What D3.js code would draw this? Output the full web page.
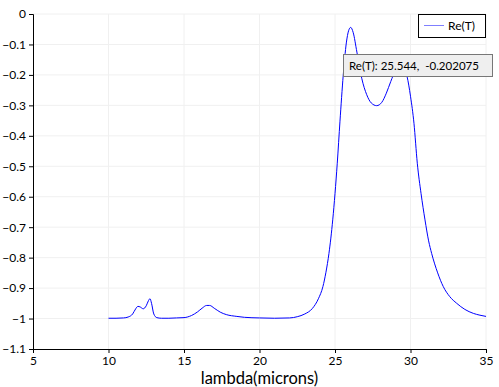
<!DOCTYPE html>
<html>
<head>
<meta charset="utf-8">
<script src="https://cdn.jsdelivr.net/npm/d3@7"></script>
<style>
  body { margin: 0; background: #fff; }
  svg { display: block; font-family: Lato, "Open Sans", sans-serif; }
</style>
</head>
<body>
<div id="chart"></div>
<script>
// wavelength samples (microns)
const lambda = [
  10.0, 10.5, 11.0, 11.3, 11.6, 11.8, 11.95, 12.1, 12.3, 12.5, 12.65, 12.75, 12.85, 13.0, 13.2, 13.5,
  14.0, 14.5, 15.0, 15.5, 15.9, 16.2, 16.5, 16.7, 17.0, 17.4, 17.8, 18.5, 19.0, 20.0, 21.0, 22.0,
  22.5, 23.0, 23.5, 23.9, 24.2, 24.4, 24.6, 24.85, 25.0, 25.15, 25.33, 25.544, 25.75, 25.9, 26.04,
  26.2, 26.45, 26.77, 27.1, 27.4, 27.76, 28.1, 28.4, 28.69, 29.0, 29.25, 29.5, 29.77, 30.0, 30.23,
  30.45, 30.7, 30.96, 31.2, 31.4, 31.8, 32.17, 32.6, 33.06, 33.6, 34.16, 34.6, 35.0
];
const reT = [
  -0.999, -0.999, -0.998, -0.995, -0.985, -0.968, -0.960, -0.962, -0.968, -0.958, -0.941, -0.935, -0.950, -0.985, -0.997, -0.999,
  -0.999, -0.998, -0.997, -0.990, -0.978, -0.966, -0.957, -0.957, -0.966, -0.979, -0.987, -0.993, -0.996, -0.998, -0.999, -0.998,
  -0.994, -0.985, -0.967, -0.935, -0.895, -0.848, -0.786, -0.676, -0.590, -0.490, -0.352, -0.202, -0.095, -0.055, -0.044,
  -0.060, -0.125, -0.211, -0.265, -0.292, -0.301, -0.290, -0.260, -0.222, -0.185, -0.168, -0.178, -0.205, -0.270, -0.359,
  -0.490, -0.590, -0.676, -0.745, -0.786, -0.850, -0.895, -0.928, -0.950, -0.970, -0.983, -0.989, -0.993
];
const xTicks = [5, 10, 15, 20, 25, 30, 35];
const yTicks = [0, -0.1, -0.2, -0.3, -0.4, -0.5, -0.6, -0.7, -0.8, -0.9, -1, -1.1];
const seriesName = "Re(T)";
const tipPoint = [25.544, -0.202075];

const width = 499, height = 387;
const margin = { top: 14, right: 13, bottom: 38, left: 33 };
const w = width - margin.left - margin.right;
const h = height - margin.top - margin.bottom;

const svg = d3.select("#chart").append("svg")
  .attr("width", width)
  .attr("height", height);

const g = svg.append("g")
  .attr("transform", `translate(${margin.left},${margin.top})`);

const x = d3.scaleLinear().domain([5, 35]).range([0, w]);
const y = d3.scaleLinear().domain([-1.1, 0]).range([h, 0]);

// faint grid
g.append("g").selectAll("line.v")
  .data(xTicks.slice(1))
  .enter().append("line")
  .attr("x1", d => x(d)).attr("x2", d => x(d))
  .attr("y1", 0).attr("y2", h)
  .attr("stroke", "#f0f0f0");
g.append("g").selectAll("line.h")
  .data(yTicks.slice(0, -1))
  .enter().append("line")
  .attr("x1", 0).attr("x2", w)
  .attr("y1", d => y(d)).attr("y2", d => y(d))
  .attr("stroke", "#f0f0f0");

// axes
const xAxis = g.append("g")
  .attr("transform", `translate(0,${h})`)
  .call(d3.axisBottom(x).tickValues(xTicks).tickSize(4).tickFormat(d3.format("d")));
const yAxis = g.append("g")
  .call(d3.axisLeft(y).tickValues(yTicks).tickSize(4).tickFormat(d => d === 0 ? "0" : d3.format("")(d)));

[xAxis, yAxis].forEach(a => {
  a.select(".domain").attr("stroke", "#000");
  a.selectAll(".tick line").attr("stroke", "#000");
  a.selectAll(".tick text")
    .attr("fill", "#000")
    .style("font-size", "12px")
    .style("font-family", "Lato, sans-serif");
});
xAxis.selectAll(".tick text").attr("dy", "0.72em");

// x axis title
svg.append("text")
  .attr("x", margin.left + w / 2)
  .attr("y", 383.5)
  .attr("text-anchor", "middle")
  .style("font-size", "16.5px")
  .text("lambda(microns)");

// curve
const pts = lambda.map((d, i) => [d, reT[i]]);
const line = d3.line()
  .x(d => x(d[0]))
  .y(d => y(d[1]))
  .curve(d3.curveMonotoneX);

g.append("path")
  .datum(pts)
  .attr("fill", "none")
  .attr("stroke", "#0000ff")
  .attr("stroke-width", 1)
  .attr("d", line);

// legend
const legend = g.append("g")
  .attr("transform", `translate(${w - 68},0)`);
legend.append("rect")
  .attr("x", 0.5).attr("y", 0.5)
  .attr("width", 67).attr("height", 23)
  .attr("fill", "#fff")
  .attr("stroke", "#000");
legend.append("line")
  .attr("x1", 6).attr("x2", 26)
  .attr("y1", 11.5).attr("y2", 11.5)
  .attr("stroke", "#7f7fff");
legend.append("text")
  .attr("x", 30).attr("y", 16)
  .style("font-size", "12px")
  .text(seriesName);

// hover tooltip, anchored at its data point
const tx = x(tipPoint[0]), ty = y(tipPoint[1]);
const tip = g.append("g")
  .attr("transform", `translate(${Math.round(tx)},${Math.round(ty)})`);
tip.append("rect")
  .attr("x", 0.5).attr("y", -21.5)
  .attr("width", 149).attr("height", 22)
  .attr("fill", "#efefef")
  .attr("stroke", "#777");
tip.append("text")
  .attr("x", 6).attr("y", -6.5)
  .style("font-size", "11.5px")
  .style("white-space", "pre")
  .text(`${seriesName}: ${tipPoint[0]},  ${tipPoint[1]}`);
</script>
</body>
</html>
